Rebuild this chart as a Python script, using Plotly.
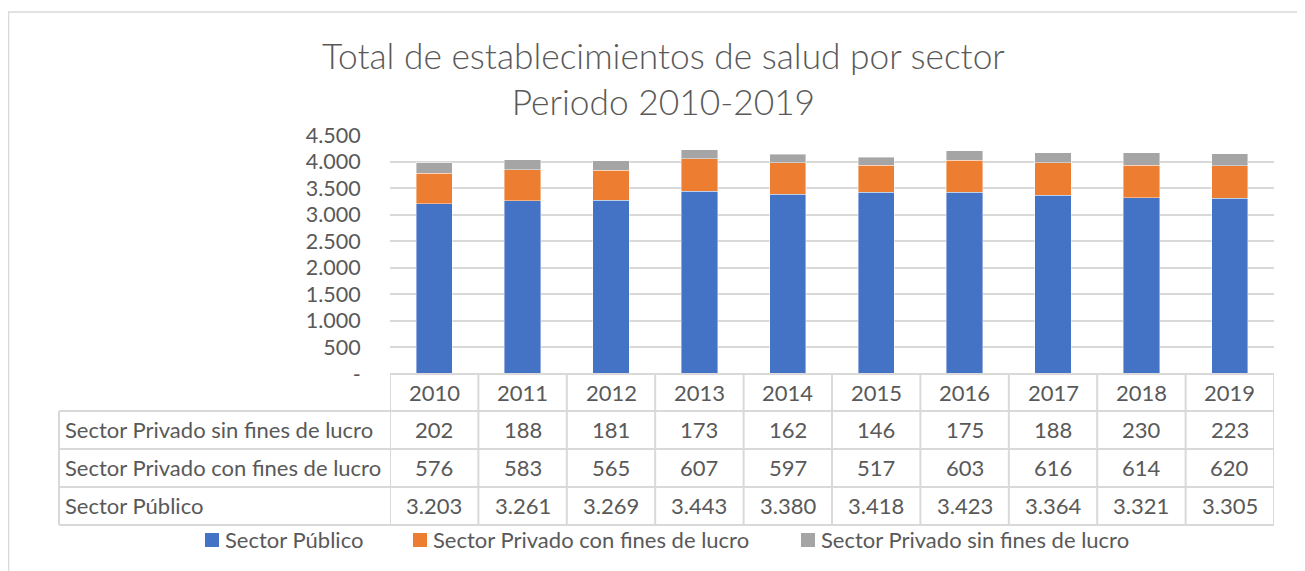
import plotly.graph_objects as go

years = ["2010", "2011", "2012", "2013", "2014", "2015", "2016", "2017", "2018", "2019"]
publico = [3203, 3261, 3269, 3443, 3380, 3418, 3423, 3364, 3321, 3305]
con_fines = [576, 583, 565, 607, 597, 517, 603, 616, 614, 620]
sin_fines = [202, 188, 181, 173, 162, 146, 175, 188, 230, 223]
y_ticks = [0, 500, 1000, 1500, 2000, 2500, 3000, 3500, 4000, 4500]

series_names = ["Sector Público", "Sector Privado con fines de lucro", "Sector Privado sin fines de lucro"]
series_colors = ["#4472C4", "#ED7D31", "#A5A5A5"]

OFF = 8  # page body margin
W, H = 1305 - OFF, 571 - OFF
# reference-pixel geometry of plot area
RL, RR, RT, RB = 390, 1274, 135, 374
L, R, T, B = RL - OFF, RR - OFF, RT - OFF, RB - OFF
PW, PH = R - L, B - T
FONT = "Lato"
GREY = "#595959"
LINE = "#d9d9d9"
FS = 22


def px2x(px):
    return (px - RL) / PW


def py2y(py):
    return (RB - py) / PH


def fmt(v):
    return f"{v:,}".replace(",", ".")


fig = go.Figure()
for nm, vals, col in zip(series_names, [publico, con_fines, sin_fines], series_colors):
    fig.add_bar(x=years, y=vals, name=nm, marker_color=col,
                marker_line=dict(color="rgba(255,255,255,0.7)", width=0.6), showlegend=False)

shapes = []
annotations = []

row_tops = [374, 411, 449, 487, 525]
label_left = 59

shapes.append(dict(type="line", xref="paper", yref="paper", x0=0, x1=1,
                   y0=py2y(374), y1=py2y(374), line=dict(color=LINE, width=2)))
for py in row_tops[1:]:
    shapes.append(dict(type="line", xref="paper", yref="paper", x0=px2x(label_left), x1=1,
                       y0=py2y(py), y1=py2y(py), line=dict(color=LINE, width=2)))
for i in range(len(years) + 1):
    shapes.append(dict(type="line", xref="x", yref="paper", x0=i - 0.5, x1=i - 0.5,
                       y0=py2y(374), y1=py2y(525), line=dict(color=LINE, width=2)))
shapes.append(dict(type="line", xref="paper", yref="paper", x0=px2x(label_left), x1=px2x(label_left),
                   y0=py2y(411), y1=py2y(525), line=dict(color=LINE, width=2)))
# outer chart border
shapes.append(dict(type="rect", xref="paper", yref="paper", x0=px2x(8.5), x1=px2x(1330),
                   y0=py2y(600), y1=py2y(12), line=dict(color=LINE, width=1.5)))

row_names = ["Sector Privado sin fines de lucro", "Sector Privado con fines de lucro", "Sector Público"]
row_values = [sin_fines, con_fines, publico]
centers = [392, 429.5, 467.5, 505.5]

tfont = dict(family=FONT, size=FS, color=GREY)
for i, yr in enumerate(years):
    annotations.append(dict(x=i, y=py2y(centers[0]), xref="x", yref="paper", text=yr,
                            showarrow=False, font=tfont, xanchor="center", yanchor="middle"))
for k, (nm, vals) in enumerate(zip(row_names, row_values)):
    yc = py2y(centers[k + 1])
    annotations.append(dict(x=px2x(63), y=yc, xref="paper", yref="paper", text=nm,
                            showarrow=False, font=tfont, xanchor="left", yanchor="middle"))
    for i, v in enumerate(vals):
        annotations.append(dict(x=i, y=yc, xref="x", yref="paper", text=fmt(v),
                                showarrow=False, font=tfont, xanchor="center", yanchor="middle"))

# legend (manual, Excel style)
legend_sq = [205, 413, 801]
for sx, nm, col in zip(legend_sq, series_names, series_colors):
    shapes.append(dict(type="rect", xref="paper", yref="paper", x0=px2x(sx), x1=px2x(sx + 14),
                       y0=py2y(547), y1=py2y(533), fillcolor=col, line=dict(width=0)))
    annotations.append(dict(x=px2x(sx + 18), y=py2y(539), xref="paper", yref="paper", text=nm,
                            showarrow=False, font=tfont, xanchor="left", yanchor="middle"))

# title
annotations.append(dict(x=px2x(663), y=py2y(78), xref="paper", yref="paper",
                        text="Total de establecimientos de salud por sector<br>Periodo 2010-2019",
                        showarrow=False, xanchor="center", yanchor="middle",
                        font=dict(family=FONT, size=35.3, color=GREY, weight=300)))

fig.update_layout(
    width=W, height=H,
    margin=dict(l=L, r=W - R, t=T, b=H - B, pad=0),
    paper_bgcolor="white", plot_bgcolor="white",
    barmode="stack", bargap=0.59,
    font=dict(family=FONT, color=GREY),
    showlegend=False,
    xaxis=dict(type="category", range=[-0.5, 9.5], showticklabels=False, showgrid=False,
               zeroline=False, showline=False, ticks=""),
    yaxis=dict(range=[0, 4500], tickvals=y_ticks,
               ticktext=["-"] + [fmt(v) for v in y_ticks[1:]],
               showgrid=True, gridcolor=LINE, gridwidth=1.5, zeroline=False,
               showline=False, ticks="outside", ticklen=24, tickcolor="rgba(0,0,0,0)",
               tickfont=dict(family=FONT, size=FS - 0.5, color=GREY)),
    shapes=shapes,
    annotations=annotations,
)

fig.write_html("out.html")
